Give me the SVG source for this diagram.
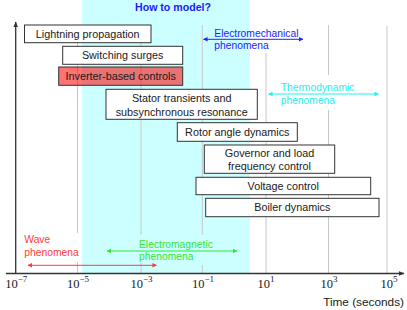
<svg xmlns="http://www.w3.org/2000/svg" width="407" height="310" viewBox="0 0 407 310">
<style>
text{font-family:"Liberation Sans",Arial,sans-serif;}
.box{fill:#fff;stroke:#333;stroke-width:1;}
.bt{font-size:10.8px;fill:#1a1a1a;text-anchor:middle;}
.grid{stroke:#c8c8c8;stroke-width:1;}
.axis{stroke:#333;stroke-width:1.3;fill:none;}
.tick{font-family:"Liberation Serif","Times New Roman",serif;font-size:12.5px;fill:#1a1a1a;text-anchor:middle;}
.sup{font-size:9px;}
</style>
<defs>
<marker id="ax" viewBox="0 0 10 10" refX="9" refY="5" markerWidth="6" markerHeight="6" markerUnits="userSpaceOnUse" orient="auto"><path d="M0,1 L10,5 L0,9 Z" fill="#333"/></marker>
<marker id="mb" viewBox="0 0 10 10" refX="9" refY="5" markerWidth="4.5" markerHeight="4.5" markerUnits="userSpaceOnUse" orient="auto-start-reverse"><path d="M0,0 L10,5 L0,10 Z" fill="#2323ff"/></marker>
<marker id="mc" viewBox="0 0 10 10" refX="9" refY="5" markerWidth="4.5" markerHeight="4.5" markerUnits="userSpaceOnUse" orient="auto-start-reverse"><path d="M0,0 L10,5 L0,10 Z" fill="#22f0f0"/></marker>
<marker id="mg" viewBox="0 0 10 10" refX="9" refY="5" markerWidth="4.5" markerHeight="4.5" markerUnits="userSpaceOnUse" orient="auto-start-reverse"><path d="M0,0 L10,5 L0,10 Z" fill="#33e633"/></marker>
<marker id="mr" viewBox="0 0 10 10" refX="9" refY="5" markerWidth="4.5" markerHeight="4.5" markerUnits="userSpaceOnUse" orient="auto-start-reverse"><path d="M0,0 L10,5 L0,10 Z" fill="#ff3b3b"/></marker>
</defs>
<rect x="0" y="0" width="407" height="310" fill="#fff"/>
<g id="region">
<rect x="82" y="0" width="168" height="273.5" fill="#ccffff"/>
<text x="173" y="10.5" font-size="10.6" font-weight="bold" fill="#1a1aff" text-anchor="middle">How to model?</text>
</g>
<g id="grid">
<line class="grid" x1="77.5" y1="25" x2="77.5" y2="233"/><line class="grid" x1="77.5" y1="262" x2="77.5" y2="273"/>
<line class="grid" x1="141" y1="25" x2="141" y2="235"/><line class="grid" x1="141" y1="263" x2="141" y2="273"/>
<line class="grid" x1="202.3" y1="25" x2="202.3" y2="235"/><line class="grid" x1="202.3" y1="265" x2="202.3" y2="273"/>
<line class="grid" x1="266" y1="53" x2="266" y2="273"/>
<line class="grid" x1="328.5" y1="25" x2="328.5" y2="75"/><line class="grid" x1="328.5" y1="110" x2="328.5" y2="273"/>
<line class="grid" x1="387" y1="26" x2="387" y2="273"/>
</g>
<g id="axes">
<line class="axis" x1="15.7" y1="274" x2="15.7" y2="22" marker-end="url(#ax)"/>
<line class="axis" x1="6" y1="273.5" x2="404" y2="273.5" marker-end="url(#ax)"/>
<text class="tick" x="16.3" y="288">10<tspan class="sup" dy="-6">−7</tspan></text>
<text class="tick" x="78" y="288">10<tspan class="sup" dy="-6">−5</tspan></text>
<text class="tick" x="141.5" y="288">10<tspan class="sup" dy="-6">−3</tspan></text>
<text class="tick" x="203" y="288">10<tspan class="sup" dy="-6">−1</tspan></text>
<text class="tick" x="266" y="288">10<tspan class="sup" dy="-6">1</tspan></text>
<text class="tick" x="329" y="288">10<tspan class="sup" dy="-6">3</tspan></text>
<text class="tick" x="389" y="288">10<tspan class="sup" dy="-6">5</tspan></text>
<text x="404" y="305.5" font-size="11.8" fill="#1a1a1a" text-anchor="end">Time (seconds)</text>
</g>
<g id="connectors">
<line x1="203.5" y1="39.3" x2="303" y2="39.3" stroke="#2323ff" stroke-width="1" marker-start="url(#mb)" marker-end="url(#mb)"/>
<line x1="268.5" y1="94" x2="378.5" y2="94" stroke="#22f0f0" stroke-width="1" marker-start="url(#mc)" marker-end="url(#mc)"/>
<line x1="107" y1="251" x2="237" y2="251" stroke="#33e633" stroke-width="1" marker-start="url(#mg)" marker-end="url(#mg)"/>
<line x1="28" y1="265.3" x2="156.5" y2="265.3" stroke="#ff3b3b" stroke-width="1" marker-start="url(#mr)" marker-end="url(#mr)"/>
</g>
<g id="label-electromechanical" fill="#2323ff">
<text x="214.3" y="36.8" font-size="10.3">Electromechanical</text>
<text x="214.3" y="49" font-size="10.3">phenomena</text>
</g>
<g id="label-thermodynamic" fill="#22f0f0">
<text x="280.7" y="90.5" font-size="10.3">Thermodynamic</text>
<text x="280.7" y="104" font-size="10.3">phenomena</text>
</g>
<g id="label-electromagnetic" fill="#33e633">
<text x="139" y="247.5" font-size="10.3">Electromagnetic</text>
<text x="139" y="260" font-size="10.3">phenomena</text>
</g>
<g id="label-wave" fill="#ff3b3b">
<text x="24.3" y="243" font-size="10.3">Wave</text>
<text x="24.3" y="256" font-size="10.3">phenomena</text>
</g>
<g id="lightning">
<rect class="box" x="24.5" y="25" width="126.5" height="17.7"/>
<text class="bt" x="87.7" y="37.8">Lightning propagation</text>
</g>
<g id="switching">
<rect class="box" x="62.7" y="46.3" width="120" height="18"/>
<text class="bt" x="122.7" y="59.1">Switching surges</text>
</g>
<g id="inverter">
<rect x="58.7" y="67" width="124" height="18.3" fill="#ff0000" fill-opacity="0.55" stroke="#333" stroke-width="1"/>
<text class="bt" x="120.7" y="80">Inverter-based controls</text>
</g>
<g id="stator">
<rect class="box" x="106" y="89.3" width="151.3" height="30"/>
<text class="bt" x="181.7" y="102">Stator transients and</text>
<text class="bt" x="181.7" y="116">subsynchronous resonance</text>
</g>
<g id="rotor">
<rect class="box" x="177.3" y="122.7" width="120" height="18.6"/>
<text class="bt" x="237.3" y="135.8">Rotor angle dynamics</text>
</g>
<g id="governor">
<rect class="box" x="204.3" y="145" width="130.4" height="28.3"/>
<text class="bt" x="269.5" y="157">Governor and load</text>
<text class="bt" x="269.5" y="169.5">frequency control</text>
</g>
<g id="voltage">
<rect class="box" x="196" y="177.3" width="174.7" height="17.4"/>
<text class="bt" x="283.3" y="189.8">Voltage control</text>
</g>
<g id="boiler">
<rect class="box" x="205.7" y="198.3" width="173.3" height="18.4"/>
<text class="bt" x="292.3" y="211.3">Boiler dynamics</text>
</g>
</svg>
